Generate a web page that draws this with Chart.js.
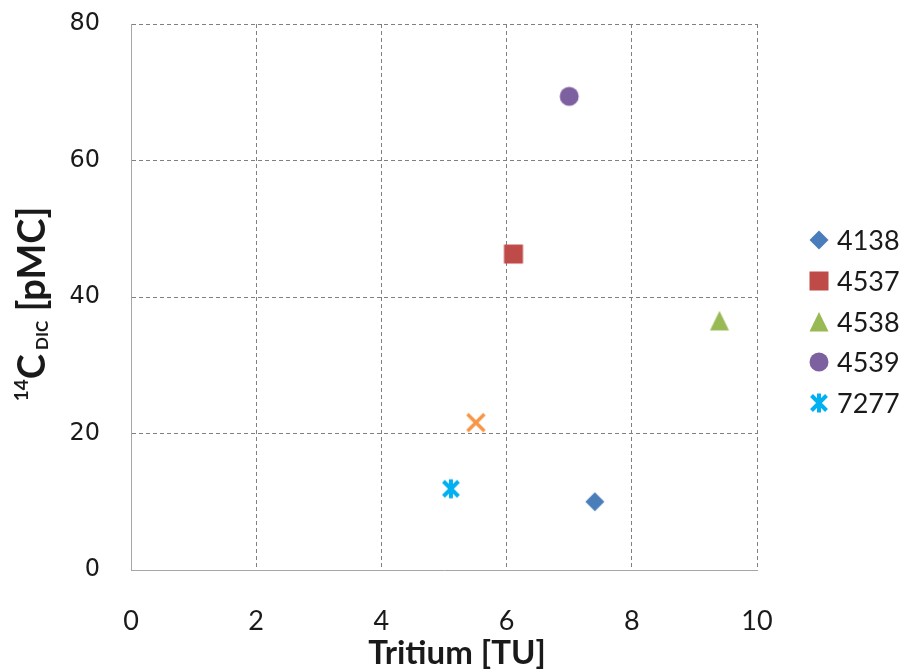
<!DOCTYPE html>
<html>
<head>
<meta charset="utf-8">
<script src="https://cdn.jsdelivr.net/npm/chart.js@4/dist/chart.umd.min.js"></script>
<style>
  html, body { margin: 0; padding: 0; background: #fff; }
  #wrap { width: 904px; height: 671px; }
</style>
</head>
<body>
<div id="wrap"><canvas id="tritium-c14-chart"></canvas></div>
<script>
// sample wells: tritium vs 14C of dissolved inorganic carbon
const wellIds = ['4138', '4537', '4538', '4539', '7277', '']
const tritiumTU = [7.41, 6.11, 9.40, 7.00, 5.11, 5.51]
const c14pMC = [10.0, 46.3, 36.5, 69.4, 11.9, 21.6]

const xTicks = [0, 2, 4, 6, 8, 10]
const yTicks = [0, 20, 40, 60, 80]

const markerShapes = ['diamond', 'square', 'triangle', 'circle', 'asterisk', 'cross']
const markerColors = ['#4a7ebb', '#be4b48', '#98b954', '#7d60a0', '#00b0f0', '#f79646']

const chartDefaults = {
  gridColor: '#808080',
  axisColor: '#a6a6a6',
  textColor: '#1a1a1a'
}

// excel-like marker glyphs, used both on the plot and in the legend
function makeMarker(shape, color) {
  const c = document.createElement('canvas')
  c.width = 24
  c.height = 24
  const g = c.getContext('2d')
  g.translate(12, 12)
  g.fillStyle = color
  g.strokeStyle = color
  g.lineWidth = 3.5
  g.lineCap = 'butt'
  g.beginPath()
  if (shape === 'diamond') {
    g.moveTo(0, -9.5); g.lineTo(9.5, 0); g.lineTo(0, 9.5); g.lineTo(-9.5, 0); g.closePath(); g.fill()
  } else if (shape === 'square') {
    g.rect(-9.5, -9.5, 19, 19); g.fill()
  } else if (shape === 'triangle') {
    g.moveTo(0, -10); g.lineTo(9.5, 9.5); g.lineTo(-9.5, 9.5); g.closePath(); g.fill()
  } else if (shape === 'circle') {
    g.arc(0, 0, 9.5, 0, Math.PI * 2); g.fill()
  } else if (shape === 'asterisk') {
    g.lineWidth = 4
    g.moveTo(-7.5, -7.5); g.lineTo(7.5, 7.5)
    g.moveTo(7.5, -7.5); g.lineTo(-7.5, 7.5)
    g.moveTo(0, -9.5); g.lineTo(0, 9.5)
    g.stroke()
  } else {
    g.moveTo(-8.5, -8.5); g.lineTo(8.5, 8.5)
    g.moveTo(8.5, -8.5); g.lineTo(-8.5, 8.5)
    g.stroke()
  }
  return c
}

const datasets = wellIds.map((id, i) => ({
  label: id,
  data: [{ x: tritiumTU[i], y: c14pMC[i] }],
  pointStyle: makeMarker(markerShapes[i], markerColors[i]),
  pointRadius: 10,
  backgroundColor: markerColors[i],
  borderColor: markerColors[i]
}))

// legend to the right of the plot, skipping the unlabeled point
const sideLegend = {
  id: 'sideLegend',
  afterDraw(chart) {
    const { ctx, chartArea } = chart
    let y = chartArea.top + 216
    ctx.save()
    ctx.font = '27px Lato'
    ctx.fillStyle = chartDefaults.textColor
    ctx.textBaseline = 'middle'
    chart.data.datasets.forEach(ds => {
      if (!ds.label) return
      ctx.drawImage(ds.pointStyle, chartArea.right + 62 - 12, Math.round(y) - 12)
      ctx.fillText(ds.label, chartArea.right + 80, Math.round(y) + 1)
      y += 40.8
    })
    ctx.restore()
  }
}

// axis titles: y title needs super/subscripts
const axisTitles = {
  id: 'axisTitles',
  afterDraw(chart) {
    const { ctx, chartArea } = chart
    ctx.save()
    ctx.fillStyle = chartDefaults.textColor
    ctx.textBaseline = 'alphabetic'

    ctx.font = 'bold 33px Lato'
    ctx.textAlign = 'center'
    ctx.fillText('Tritium [TU]', 457, 664)

    const parts = [
      { t: '14', font: 'bold 19px Lato', dy: -17 },
      { t: 'C', font: 'bold 38px Lato', dy: 0 },
      { t: ' DIC', font: 'bold 17px Lato', dy: 3 },
      { t: ' [pMC]', font: 'bold 38px Lato', dy: 0 }
    ]
    let total = 0
    parts.forEach(p => { ctx.font = p.font; p.w = ctx.measureText(p.t).width; total += p.w })
    ctx.translate(45, chartArea.top + 280)
    ctx.rotate(-Math.PI / 2)
    ctx.textAlign = 'left'
    let x = -total / 2
    parts.forEach(p => {
      ctx.font = p.font
      ctx.fillText(p.t, x, p.dy)
      x += p.w
    })
    ctx.restore()
  }
}

new Chart(document.getElementById('tritium-c14-chart'), {
  type: 'scatter',
  data: { datasets: datasets },
  plugins: [sideLegend, axisTitles],
  options: {
    responsive: true,
    maintainAspectRatio: false,
    animation: false,
    layout: {
      padding: { top: 24, right: 147, bottom: 0, left: 0 }
    },
    plugins: {
      legend: { display: false },
      tooltip: { enabled: false }
    },
    scales: {
      x: {
        type: 'linear',
        min: xTicks[0],
        max: xTicks[xTicks.length - 1],
        afterFit: scale => { scale.height = 101 },
        afterBuildTicks: scale => { scale.ticks = xTicks.map(v => ({ value: v })) },
        grid: {
          color: chartDefaults.gridColor,
          drawTicks: false
        },
        border: {
          color: chartDefaults.axisColor,
          dash: [4, 3]
        },
        ticks: {
          color: chartDefaults.textColor,
          font: { family: 'Lato', size: 27 },
          padding: 35
        }
      },
      y: {
        type: 'linear',
        min: yTicks[0],
        max: yTicks[yTicks.length - 1],
        afterFit: scale => {
          scale.width = 131
          scale.paddingTop = 0
          scale.paddingBottom = 0
        },
        afterBuildTicks: scale => { scale.ticks = yTicks.map(v => ({ value: v })) },
        grid: {
          color: chartDefaults.gridColor,
          drawTicks: false
        },
        border: {
          color: chartDefaults.axisColor,
          dash: [4, 3]
        },
        ticks: {
          color: chartDefaults.textColor,
          font: { family: 'DejaVu Sans', size: 24 },
          padding: 31
        }
      }
    }
  }
})
</script>
</body>
</html>
